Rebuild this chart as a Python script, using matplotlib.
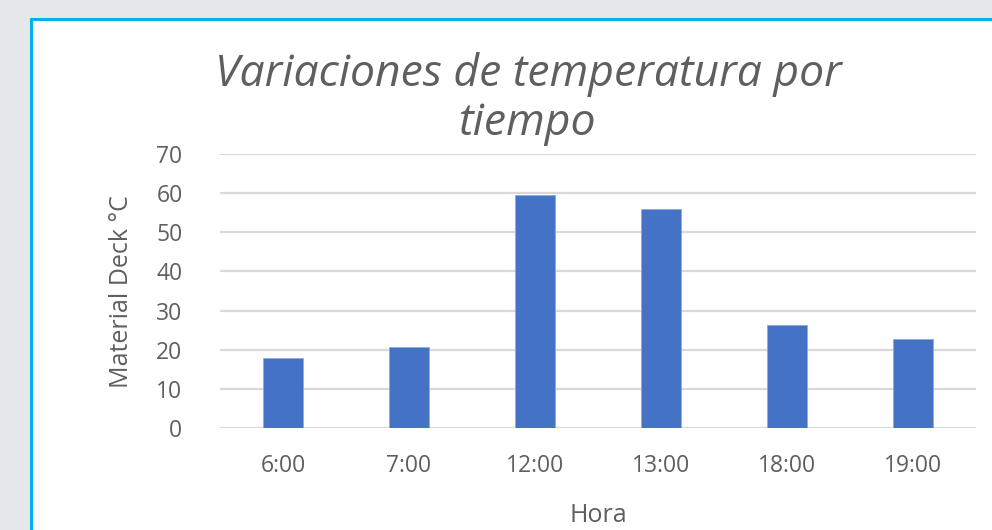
import matplotlib
matplotlib.use("Agg")
import matplotlib.pyplot as plt
from matplotlib.patches import Rectangle

categories = ["6:00", "7:00", "12:00", "13:00", "18:00", "19:00"]
values = [17.8, 20.7, 59.6, 55.9, 26.3, 22.8]
yticks = [0, 10, 20, 30, 40, 50, 60, 70]
title = "Variaciones de temperatura por\ntiempo"
xlabel = "Hora"
ylabel = "Material Deck °C"

W, H = 992, 530
fig = plt.figure(figsize=(W / 100, H / 100), dpi=100)
fig.patch.set_facecolor("#e5e8ea")

# chart area (white with blue border)
fig.patches.append(Rectangle((31 / W, -0.05), 1.1, (H - 19) / H + 0.05,
                             transform=fig.transFigure, facecolor="white",
                             edgecolor="#00b0f0", linewidth=2.2, zorder=-5))

ax = fig.add_axes([220 / W, (H - 428) / H, 756 / W, 274 / H], zorder=2)
ax.set_facecolor("none")
x = range(len(categories))
ax.bar(x, values, width=0.317, color="#4472c4", edgecolor="#8eaadb",
       linewidth=0.6, zorder=3)
ax.set_xlim(-0.5, len(categories) - 0.5)
ax.set_ylim(0, 70)
ax.set_yticks(yticks)
ax.set_xticks(list(x))
ax.set_xticklabels(categories)
for s in ax.spines.values():
    s.set_visible(False)
ax.grid(axis="y", color="#d9d9d9", linewidth=1.6, zorder=0)
ax.set_axisbelow(True)
ax.tick_params(axis="both", length=0, labelsize=16.5, labelcolor="#5f5f5f")
ax.tick_params(axis="x", pad=19)
ax.tick_params(axis="y", pad=27)
for lab in ax.get_xticklabels() + ax.get_yticklabels():
    lab.set_fontfamily("Open Sans")

fig.text(598 / W, 1 - 515 / H, xlabel, ha="center", va="center",
         fontsize=18, color="#5f5f5f", family="Open Sans")
fig.text(122 / W, 1 - 292 / H, ylabel, ha="center", va="center",
         rotation=90, fontsize=18, color="#5f5f5f", family="Open Sans")
fig.text(528 / W, 1 - 99 / H, title, ha="center", va="center",
         fontsize=32, color="#5f5f5f", family="Open Sans", style="italic",
         linespacing=1.15)

fig.savefig("out.png", dpi=100, facecolor=fig.get_facecolor())
